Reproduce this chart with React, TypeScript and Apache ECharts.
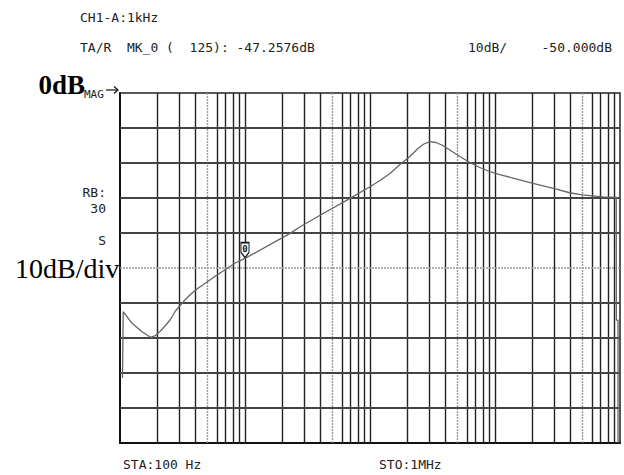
import React, { useEffect, useRef } from "react";
import * as echarts from "echarts";

// Trace (frequency in Hz, magnitude in dB)
const freqHz = [104.7, 106.1, 125, 150, 175.2, 192, 210.6, 230.9, 253.1, 277.5, 304.8, 333.4, 365.5, 423.3, 496.9, 589.5, 717.7, 836, 1000, 2298, 2761, 3990, 6924, 10000, 12017, 14440, 17360, 20860, 24160, 26990, 30130, 33640, 37570, 43530, 52300, 62870, 75530, 90800, 109100, 139400, 201300, 303800, 395300, 499000, 729100, 932700, 935000, 964000, 964000];
const magDb = [-81.4, -62.5, -65.8, -68.2, -69.8, -69.29, -68.0, -66.43, -64.71, -62.29, -60.57, -59.0, -57.57, -55.71, -54.0, -52.14, -50.14, -48.57, -47.26, -40.1, -38.2, -34.94, -30.1, -26.8, -25.0, -23.0, -20.43, -18.14, -15.86, -14.57, -13.91, -14.14, -14.86, -16.29, -18.14, -19.86, -21.29, -22.43, -23.29, -24.29, -25.8, -27.4, -28.5, -29.1, -29.7, -29.8, -64.9, -64.9, -100];

// Grid lines
const solidFreqs = [200, 300, 400, 600, 700, 800, 900, 1000, 2000, 3000, 4000, 6000, 7000, 8000, 9000, 10000, 20000, 30000, 40000, 60000, 70000, 80000, 90000, 100000, 200000, 300000, 400000, 600000, 700000, 800000, 900000];
const dottedFreqs = [500, 5000, 50000, 500000];
const solidDb = [-90, -80, -70, -60, -40, -30, -20, -10];
const refDb = -50;

const markerFreq = 1000;
const markerDb = -47.2576;

const headerLine1 = "CH1-A:1kHz";
const headerLine2 = "TA/R  MK_0 (  125): -47.2576dB";
const scaleText = "10dB/";
const refText = "-50.000dB";
const startText = "STA:100 Hz";
const stopText = "STO:1MHz";

const MONO = "'DejaVu Sans Mono', monospace";
const SERIF = "'Liberation Serif', 'Times New Roman', serif";

export default function App() {
  const ref = useRef<HTMLDivElement>(null);
  useEffect(() => {
    if (!ref.current) return;
    const chart = echarts.init(ref.current, undefined, { renderer: "svg" });
    const trace = freqHz.map((f, i) => [f, magDb[i]]);
    const gridMarks: any[] = [];
    solidFreqs.forEach((f) =>
      gridMarks.push({ xAxis: f, lineStyle: { color: "#222", width: 1.4, type: "solid" } })
    );
    dottedFreqs.forEach((f) =>
      gridMarks.push({ xAxis: f, lineStyle: { color: "#999", width: 1.4, type: [2, 1] } })
    );
    solidDb.forEach((d) =>
      gridMarks.push({ yAxis: d, lineStyle: { color: "#444", width: 1.8, type: "solid" } })
    );
    gridMarks.push({ yAxis: refDb, lineStyle: { color: "#999", width: 1.6, type: [2, 1] } });

    const txt = (text: string, x: number, y: number, opts: any = {}) => ({
      type: "text",
      x,
      y,
      style: {
        text,
        fontSize: opts.fontSize ?? 13,
        fontFamily: opts.fontFamily ?? MONO,
        fontWeight: opts.fontWeight ?? "normal",
        fill: opts.fill ?? "#222",
        textAlign: opts.align ?? "left",
        textVerticalAlign: "middle",
      },
    });

    chart.setOption({
      animation: false,
      backgroundColor: "#fff",
      grid: {
        left: 120,
        top: 93,
        right: 4,
        bottom: 32,
        show: true,
        borderColor: "#222",
        borderWidth: 1.5,
      },
      xAxis: {
        type: "log",
        logBase: 10,
        min: 100,
        max: 1000000,
        axisLabel: { show: false },
        axisTick: { show: false },
        splitLine: { show: false },
        axisLine: { show: true, onZero: false, lineStyle: { color: "#111", width: 2 } },
      },
      yAxis: {
        type: "value",
        min: -100,
        max: 0,
        interval: 10,
        axisLabel: { show: false },
        axisTick: { show: false },
        splitLine: { show: false },
        axisLine: { show: true, onZero: false, lineStyle: { color: "#111", width: 2 } },
      },
      series: [
        {
          type: "line",
          data: trace,
          showSymbol: false,
          symbol: "none",
          silent: true,
          lineStyle: { opacity: 0, width: 0 },
          z: 1,
          markLine: {
            silent: true,
            symbol: ["none", "none"],
            label: { show: false },
            animation: false,
            data: gridMarks,
          },
        },
        {
          type: "line",
          data: trace,
          showSymbol: false,
          symbol: "none",
          lineStyle: { color: "#666", width: 1.3 },
          z: 5,
          markPoint: {
            silent: true,
            animation: false,
            data: [
              {
                coord: [markerFreq, markerDb],
                symbol: "path://M0,0L10,0L10,11L5,17L0,11Z",
                symbolSize: [8, 15],
                symbolOffset: [0, "-55%"],
                itemStyle: { color: "#fff", borderColor: "#111", borderWidth: 1.3 },
                label: {
                  show: true,
                  formatter: "0",
                  position: "inside",
                  offset: [0, -1],
                  fontSize: 9,
                  fontWeight: "bold",
                  fontFamily: MONO,
                  color: "#111",
                },
              },
            ],
          },
        },
      ],
      graphic: [
        txt(headerLine1, 80, 17),
        txt(headerLine2, 80, 47),
        txt(scaleText, 468, 47),
        txt(refText, 612, 47, { align: "right" }),
        txt("0dB", 85, 85, { fontSize: 27, fontFamily: SERIF, fontWeight: "bold", fill: "#000", align: "right" }),
        txt("MAG", 84, 94, { fontSize: 11 }),
        { type: "line", shape: { x1: 106, y1: 90, x2: 118, y2: 90 }, style: { stroke: "#111", lineWidth: 1.2 } },
        { type: "polyline", shape: { points: [[114, 86.5], [118, 90], [114, 93.5]] }, style: { stroke: "#111", lineWidth: 1.2, fill: null } },
        txt("RB:", 106, 192, { align: "right" }),
        txt("30", 106, 208.5, { align: "right" }),
        txt("S", 106, 240.5, { align: "right" }),
        txt("10dB/div", 15, 268, { fontSize: 28, fontFamily: SERIF, fill: "#000" }),
        txt(startText, 123, 464),
        txt(stopText, 379, 464),
      ],
    });
    return () => chart.dispose();
  }, []);
  return (
    <div
      ref={ref}
      style={{ position: "absolute", left: 0, top: 0, width: 624, height: 475 }}
    />
  );
}
